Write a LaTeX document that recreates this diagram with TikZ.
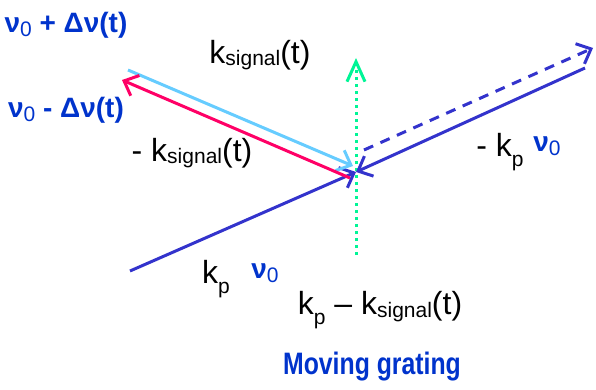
\documentclass[tikz,border=0pt]{standalone}
\usepackage{fontspec}
\setmainfont{Liberation Sans}
\newfontfamily\narrowsans{Liberation Sans}[FakeStretch=0.8]
\usetikzlibrary{arrows.meta}

\definecolor{pumpblue}{RGB}{51,51,204}
\definecolor{labelblue}{RGB}{0,51,204}
\definecolor{signalblue}{RGB}{102,204,255}
\definecolor{idlerred}{RGB}{255,0,102}
\definecolor{gratinggreen}{RGB}{0,245,150}

\newcommand\lowsub[2][0.08em]{\raisebox{-#1}{\fontsize{21}{21}\selectfont #2}}

\begin{document}
\begin{tikzpicture}[
    x=1pt, y=-1pt,
    >={Straight Barb[length=12pt,width=22pt]},
    beam/.style={line width=3pt},
    label/.style={inner sep=0pt, font=\fontsize{32}{34}\selectfont},
    freq/.style={inner sep=0pt, text=labelblue, font=\fontsize{28}{30}\selectfont\bfseries}
]
\useasboundingbox (0,0) rectangle (596,390);

% beam end points
\coordinate (hit) at (356,172);
\coordinate (pumpin) at (130,271);
\coordinate (pumpout) at (585,68);
\coordinate (dashstart) at (364,150);
\coordinate (dashend) at (593,48);
\coordinate (sigfar) at (128,70);
\coordinate (sighit) at (353,166);
\coordinate (idlhit) at (350,178);
\coordinate (idlfar) at (122,80);
\coordinate (gratebot) at (356,255);
\coordinate (gratetop) at (356,58);

\draw[beam, gratinggreen, dash pattern=on 3pt off 4pt, ->, >={Straight Barb[length=20pt,width=18pt]}] (gratebot) -- (gratetop);
\draw[beam, pumpblue, ->] (pumpin) -- (hit);
\draw[beam, pumpblue, ->] (pumpout) -- (hit);
\draw[beam, pumpblue, dash pattern=on 10pt off 8pt, ->] (dashstart) -- (dashend);
\draw[beam, signalblue, ->] (sigfar) -- (sighit);
\draw[beam, idlerred, ->] (idlhit) -- (idlfar);

% labels
\node[freq] (upfreq) at (66,25) {ν\lowsub[0.15em]{\mdseries 0} + Δν(t)};
\node[freq] (lowfreq) at (66,110) {ν\lowsub[0.15em]{\mdseries 0} - Δν(t)};
\node[label] (ksig) at (260,55) {k\lowsub{signal}(t)};
\node[label] (minusksig) at (192,153) {- k\lowsub{signal}(t)};
\node[label] (minuskp) at (500,152) {- k\lowsub[0.3em]{p}};
\node[freq] (nuright) at (547,146) {ν\lowsub[0.15em]{\mdseries 0}};
\node[label] (kp) at (216,279) {k\lowsub[0.3em]{p}};
\node[freq] (nuleft) at (265,273) {ν\lowsub[0.15em]{\mdseries 0}};
\node[label] (kdiff) at (380,310) {k\lowsub[0.3em]{p} – k\lowsub{signal}(t)};
\node[freq, font=\fontsize{31}{33}\selectfont\narrowsans\bfseries] (grating) at (372,367) {Moving grating};
\end{tikzpicture}
\end{document}
